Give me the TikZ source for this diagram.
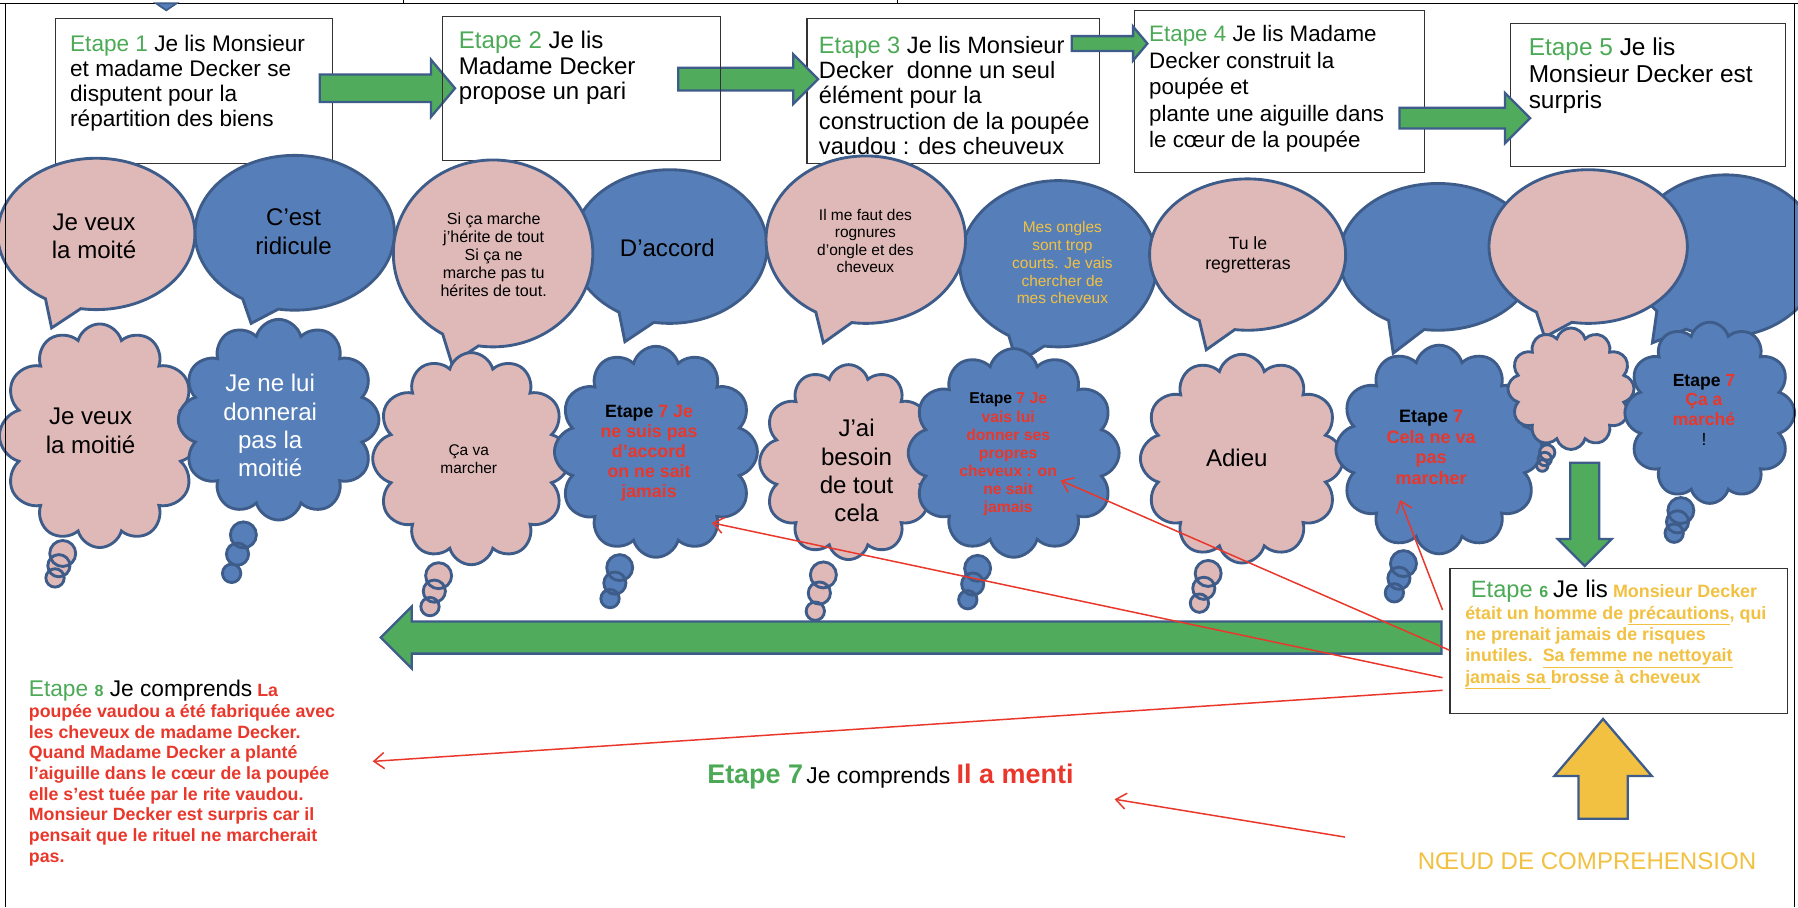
\documentclass[tikz,border=0pt]{standalone}
\usepackage{fontspec}
\setmainfont{Liberation Sans}
\usetikzlibrary{shapes.callouts,shapes.arrows,arrows.meta}
\definecolor{bubblepink}{RGB}{223,185,184}
\definecolor{bubbleblue}{RGB}{86,127,185}
\definecolor{edgeblue}{RGB}{62,92,138}
\definecolor{arrowgreen}{RGB}{80,172,92}
\definecolor{arrowyellow}{RGB}{242,193,66}
\definecolor{stepgreen}{RGB}{76,170,86}
\definecolor{stepred}{RGB}{233,55,43}
\definecolor{stepyellow}{RGB}{242,193,66}
\tikzset{
  talk/.style={ellipse callout, draw=edgeblue, line width=2.5pt, inner sep=0pt, callout pointer arc=22},
  pinktalk/.style={talk, fill=bubblepink},
  bluetalk/.style={talk, fill=bubbleblue},
  think/.style={cloud callout, draw=edgeblue, line width=2.5pt, inner sep=0pt, cloud puffs=12, cloud ignores aspect,
    callout pointer start size=30pt and 26pt, callout pointer end size=18pt and 16pt, callout pointer segments=3},
  pinkthink/.style={think, fill=bubblepink},
  bluethink/.style={think, fill=bubbleblue},
  stepbox/.style={draw=black!80, line width=1pt, fill=white, anchor=north west, inner sep=0pt},
  steptext/.style={anchor=north west, align=left, inner sep=0pt},
  blockarrow/.style={single arrow, draw=edgeblue, line width=2pt, inner xsep=0pt, anchor=tail},
  redlink/.style={draw=stepred, line width=1.3pt, -{Straight Barb[length=9pt,width=14pt]}}
}
\begin{document}
\begin{tikzpicture}[x=1pt,y=-1pt]
\useasboundingbox (0,0) rectangle (1568,791);
% top strip
\draw[black, line width=1pt] (0,2.9) -- (1568,2.9);
\draw[black, line width=1pt] (352,0) -- (352,2.9) (783,0) -- (783,2.9);
\filldraw[fill=bubbleblue, draw=edgeblue, line width=1.5pt] (136,2.9) -- (154,2.9) -- (145,9) -- cycle;
% reading steps
\node[stepbox, minimum width=242pt, minimum height=126pt] (box1) at (47.6,16) {};
\node[stepbox, minimum width=255pt, minimum height=126pt] (box3) at (703.2,16) {};
\node[stepbox, minimum width=253pt, minimum height=141pt] (box4) at (989,8.7) {};
\node[stepbox, minimum width=240pt, minimum height=125pt] (box5) at (1316.5,19.8) {};
\node[blockarrow, fill=arrowgreen, minimum height=118pt, inner ysep=11pt, single arrow head extend=13pt, single arrow tip angle=100] (arr1) at (277.8,77) {};
\node[blockarrow, fill=arrowgreen, minimum height=122pt, inner ysep=9pt, single arrow head extend=11.7pt] (arr2) at (590.5,69) {};
\node[blockarrow, fill=arrowgreen, minimum height=66pt, inner ysep=5.5pt, single arrow head extend=8.3pt, single arrow tip angle=100] (arr3) at (933.6,38) {};
\node[blockarrow, fill=arrowgreen, minimum height=114pt, inner ysep=8pt, single arrow head extend=13pt] (arr4) at (1219.4,103) {};
\node[stepbox, fill=none, minimum width=242pt, minimum height=126pt] (box2) at (385.5,13.7) {};
\node[steptext, font=\fontsize{19.7}{21.8}\selectfont] (txt1) at (61,30.5) {\textcolor{stepgreen}{Etape 1} Je lis Monsieur\\et madame Decker se\\disputent pour la\\répartition des biens};
\node[steptext, font=\fontsize{21}{22.2}\selectfont] (txt2) at (400,27.2) {\textcolor{stepgreen}{Etape 2} Je lis\\Madame Decker\\propose un pari};
\node[steptext, font=\fontsize{20.6}{22}\selectfont] (txt3) at (714,31.4) {\textcolor{stepgreen}{Etape 3} Je lis Monsieur\\Decker\ \ donne un seul\\élément pour la\\construction de la poupée\\vaudou : des cheuveux};
\node[steptext, font=\fontsize{19.5}{23.2}\selectfont] (txt4) at (1002,21.8) {\textcolor{stepgreen}{Etape 4} Je lis Madame\\Decker construit la\\poupée et\\plante une aiguille dans\\le cœur de la poupée};
\node[steptext, font=\fontsize{21.3}{23.2}\selectfont] (txt5) at (1333,32.8) {\textcolor{stepgreen}{Etape 5} Je lis\\Monsieur Decker est\\surpris};
% speech bubbles
\node[bluetalk, minimum width=174pt, minimum height=135pt, callout absolute pointer={(219,282)}] (s2) at (257,203) {};
\node[bluetalk, minimum width=170pt, minimum height=134pt, callout absolute pointer={(545,298)}] (s4) at (584,215) {};
\node[bluetalk, minimum width=172pt, minimum height=145pt, callout absolute pointer={(887,317)}] (s6) at (923,230) {};
\node[bluetalk, minimum width=172pt, minimum height=128pt, callout absolute pointer={(1215,308)}] (s8) at (1254,224) {};
\node[bluetalk, minimum width=165pt, minimum height=141pt, callout absolute pointer={(1441,299)}] (s10) at (1505,223) {};
\node[pinktalk, minimum width=172pt, minimum height=132pt, callout absolute pointer={(45,286)}] (s1) at (84,204) {};
\node[pinktalk, minimum width=174pt, minimum height=163pt, callout absolute pointer={(394,317)}] (s3) at (430,221) {};
\node[pinktalk, minimum width=174pt, minimum height=146pt, callout absolute pointer={(718,299)}] (s5) at (755,209) {};
\node[pinktalk, minimum width=171pt, minimum height=132pt, callout absolute pointer={(1052,305)}] (s7) at (1088,222) {};
\node[pinktalk, minimum width=173pt, minimum height=134pt, callout absolute pointer={(1347,294)}] (s9) at (1385,215) {};
% thought clouds
\node[pinkthink, minimum width=175pt, minimum height=195pt, callout absolute pointer={(48,504)}] (c1) at (87,380) {};
\node[bluethink, minimum width=175pt, minimum height=175pt, callout absolute pointer={(202,500)}] (c2) at (243,366) {};
\node[pinkthink, minimum width=172pt, minimum height=185pt, callout absolute pointer={(375,529)}] (c3) at (411,400) {};
\node[bluethink, minimum width=177pt, minimum height=184pt, callout absolute pointer={(532,522)}] (c4) at (572,394) {};
\node[pinkthink, minimum width=155pt, minimum height=170pt, callout absolute pointer={(711,533)}] (c5) at (740,403) {};
\node[bluethink, minimum width=184pt, minimum height=182pt, callout absolute pointer={(844,523)}] (c6) at (884,395) {};
\node[pinkthink, minimum width=177pt, minimum height=182pt, callout absolute pointer={(1046,526)}] (c7) at (1083,400) {};
\node[bluethink, minimum width=180pt, minimum height=182pt, callout absolute pointer={(1216,517)}] (c8) at (1255,392) {};
\node[pinkthink, minimum width=110pt, minimum height=106pt, callout pointer start size=18pt and 15pt, callout pointer end size=11pt and 10pt, callout absolute pointer={(1345,406)}] (c9) at (1370,339) {};
\node[bluethink, minimum width=148pt, minimum height=158pt, callout absolute pointer={(1460,465)}] (c10) at (1491,360) {};
% what they say
\node[align=center, font=\fontsize{21}{24.5}\selectfont] (t1) at (82,206) {Je veux\\la moité};
\node[align=center, font=\fontsize{21}{24.7}\selectfont] (t2) at (256,202) {C’est\\ridicule};
\node[align=center, font=\fontsize{14}{15.6}\selectfont] (t3) at (430.5,222.4) {Si ça marche\\j’hérite de tout\\Si ça ne\\marche pas tu\\hérites de tout.};
\node[align=center, font=\fontsize{21}{24}\selectfont] (t4) at (582,216.6) {D’accord};
\node[align=center, font=\fontsize{13.5}{15.2}\selectfont] (t5) at (754.7,210.3) {Il me faut des\\rognures\\d’ongle et des\\cheveux};
\node[align=center, text=stepyellow, font=\fontsize{13.5}{15.5}\selectfont] (t6) at (926.5,229.2) {Mes ongles\\sont trop\\courts. Je vais\\chercher de\\mes cheveux};
\node[align=center, font=\fontsize{15.4}{17.4}\selectfont] (t7) at (1088.3,222.4) {Tu le\\regretteras};
% what they think
\node[align=center, font=\fontsize{21}{24.7}\selectfont] (u1) at (79,375.8) {Je veux\\la moitié};
\node[align=center, text=white, font=\fontsize{21}{24.7}\selectfont] (u2) at (235.6,371.2) {Je ne lui\\donnerai\\pas la\\moitié};
\node[align=center, font=\fontsize{13.5}{16}\selectfont] (u3) at (408.8,400.3) {Ça va\\marcher};
\node[align=center, text=stepred, font=\fontsize{15.5}{17.4}\selectfont\bfseries] (u4) at (566,395.4) {\textcolor{black}{Etape} 7 Je\\ne suis pas\\d’accord\\on ne sait\\jamais};
\node[align=center, font=\fontsize{21}{24.7}\selectfont] (u5) at (747,410.6) {J’ai\\besoin\\de tout\\cela};
\node[align=center, text=stepred, font=\fontsize{13.7}{15.8}\selectfont\bfseries] (u6) at (879.2,396.4) {\textcolor{black}{Etape} 7 Je\\vais lui\\donner ses\\propres\\cheveux : on\\ne sait\\jamais};
\node[align=center, font=\fontsize{21}{24}\selectfont] (u7) at (1078.6,399.7) {Adieu};
\node[align=center, text=stepred, font=\fontsize{15.7}{17.9}\selectfont\bfseries] (u8) at (1248,390.2) {\textcolor{black}{Etape} 7\\Cela ne va\\pas\\marcher};
\node[align=center, text=stepred, font=\fontsize{15.3}{17.4}\selectfont\bfseries] (u10) at (1486,357.5) {\textcolor{black}{Etape} 7\\Ça a\\marché\\\textcolor{black}{\mdseries !}};
% steps 6 to 8
\node[blockarrow, fill=arrowgreen, minimum height=925pt, inner ysep=13pt, single arrow head extend=13pt, shape border rotate=180] (back) at (1258,556) {};
\node[blockarrow, fill=arrowgreen, minimum height=90pt, inner xsep=11.7pt, inner ysep=0pt, single arrow head extend=10.8pt, shape border rotate=270] (down) at (1382,402.6) {};
\node[stepbox, minimum width=294pt, minimum height=126.4pt] (e6) at (1264,495.6) {};
\node[steptext, text=stepyellow, font=\fontsize{15.6}{18.6}\selectfont\bfseries] (e6txt) at (1277.6,506) {\hspace{5pt}{\mdseries\color{stepgreen}\fontsize{20.6}{22}\selectfont Etape {\bfseries\fontsize{14}{16}\selectfont 6}} {\mdseries\color{black}\fontsize{21}{22}\selectfont Je lis} Monsieur Decker\\était un homme de \underline{précautions}, qui\\ne prenait jamais de risques\\inutiles.\ \ \underline{Sa femme ne nettoyait}\\\underline{jamais sa }brosse à cheveux};
\node[blockarrow, fill=arrowyellow, minimum height=87pt, inner xsep=20.5pt, inner ysep=0pt, single arrow head extend=21pt, single arrow tip angle=81, shape border rotate=90] (up) at (1398,715) {};
\node[text=stepyellow, font=\fontsize{21}{24}\selectfont] (noeud) at (1384,751.4) {NŒUD DE COMPREHENSION};
\node[steptext, text=stepred, font=\fontsize{15.5}{18.06}\selectfont\bfseries] (e8) at (25,593) {{\mdseries\fontsize{19.8}{20.3}\selectfont\textcolor{stepgreen}{Etape {\bfseries\fontsize{14}{15}\selectfont 8}} \textcolor{black}{Je comprends}} La\\poupée vaudou a été fabriquée avec\\les cheveux de madame Decker.\\Quand Madame Decker a planté\\l’aiguille dans le cœur de la poupée\\elle s’est tuée par le rite vaudou.\\Monsieur Decker est surpris car il\\pensait que le rituel ne marcherait\\pas.};
\node[anchor=west, inner sep=0pt] (e7) at (616.6,677.3) {\textcolor{stepgreen}{\bfseries\fontsize{23.5}{25}\selectfont Etape 7} \fontsize{20}{22}\selectfont Je comprends \textcolor{stepred}{\bfseries\fontsize{23.5}{25}\selectfont Il a menti}};
% red links
\coordinate (r1a) at (1258,532); \coordinate (r1b) at (1221,436);
\coordinate (r2a) at (1264,567); \coordinate (r2b) at (925,419);
\coordinate (r3a) at (1258,591); \coordinate (r3b) at (621,456);
\coordinate (r4a) at (1258,602); \coordinate (r4b) at (325,664);
\coordinate (r5a) at (1173,730); \coordinate (r5b) at (972,697);
\draw[redlink] (r1a) -- (r1b);
\draw[redlink] (r2a) -- (r2b);
\draw[redlink] (r3a) -- (r3b);
\draw[redlink] (r4a) -- (r4b);
\draw[redlink] (r5a) -- (r5b);
% frame
\draw[black, line width=1.2pt] (5,2.9) -- (5,791) (1565,2.9) -- (1565,791);
\end{tikzpicture}
\end{document}
